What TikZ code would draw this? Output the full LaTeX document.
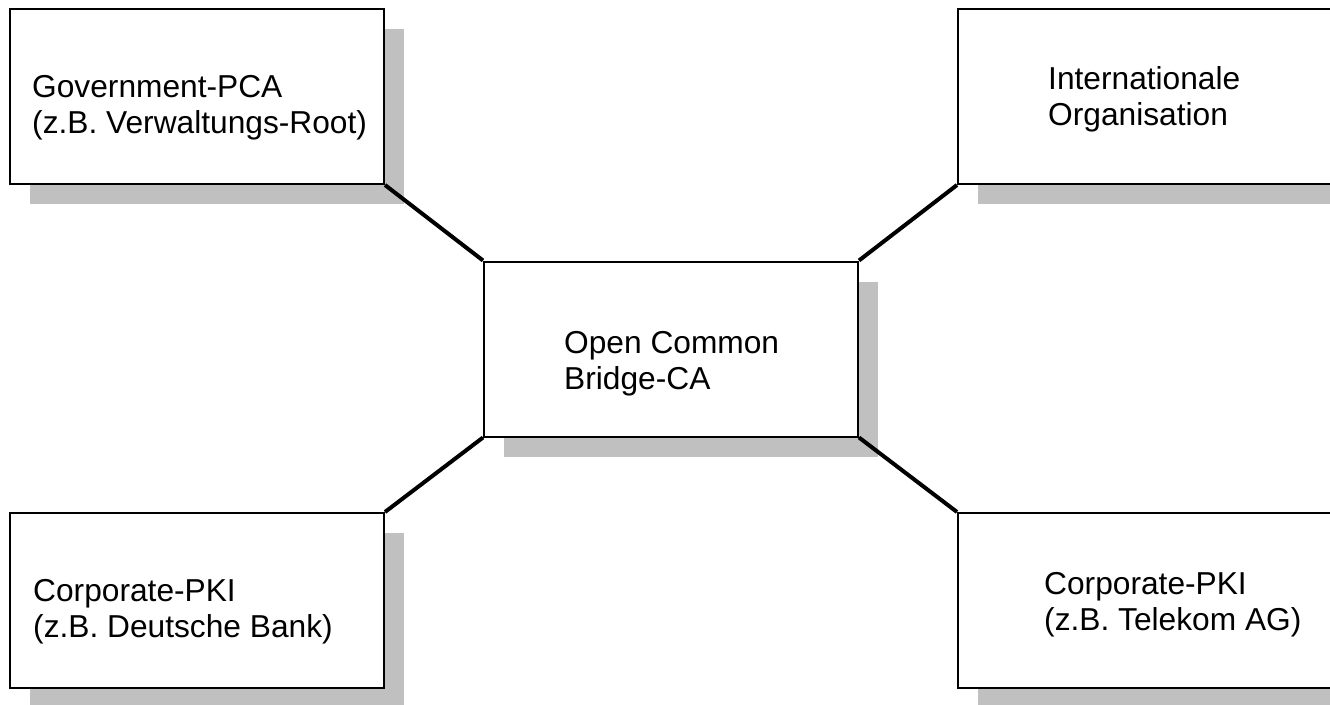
\documentclass[tikz,border=0pt]{standalone}
\usepackage{fontspec}
\setmainfont{Liberation Sans}
\usetikzlibrary{shadows}
\definecolor{shadowgray}{RGB}{192,192,192}
\begin{document}
\begin{tikzpicture}[x=1pt,y=-1pt,
  box/.style={draw=black, line width=2pt, fill=white, minimum width=374pt, minimum height=175pt, inner sep=0pt,
    general shadow={fill=shadowgray, shadow xshift=20pt, shadow yshift=-20pt}},
  lbl/.style={anchor=base west, inner sep=0pt, align=left, font=\fontsize{31.7}{36}\selectfont},
  conn/.style={line width=4pt, line cap=butt}]
\useasboundingbox (0,0) rectangle (1330,704);
\begin{scope}
\clip (0,0) rectangle (1330,704);
\node[box] (tl) at (197,96.5) {};
\node[box, minimum width=384pt] (tr) at (1150,96.5) {};
\node[box] (c) at (671,349) {};
\node[box] (bl) at (197,600.5) {};
\node[box, minimum width=384pt] (br) at (1150,600.5) {};
\end{scope}
\draw[conn] (tl.south east) -- (c.north west);
\draw[conn] (tr.south west) -- (c.north east);
\draw[conn] (bl.north east) -- (c.south west);
\draw[conn] (br.north west) -- (c.south east);
\node[lbl] (tltxt) at (32,133) {Government-PCA\\(z.B. Verwaltungs-Root)};
\node[lbl] (trtxt) at (1048,125) {Internationale\\Organisation};
\node[lbl] (ctxt) at (564,389) {Open Common\\Bridge-CA};
\node[lbl] (bltxt) at (33,637) {Corporate-PKI\\(z.B. Deutsche Bank)};
\node[lbl] (brtxt) at (1044,630) {Corporate-PKI\\(z.B. Telekom AG)};
\end{tikzpicture}
\end{document}
